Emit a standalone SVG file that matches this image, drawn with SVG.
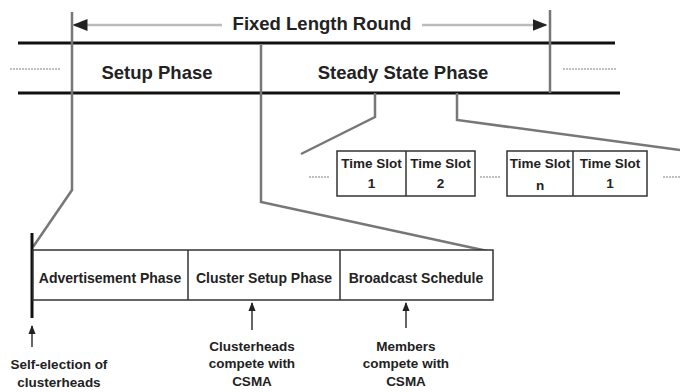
<svg xmlns="http://www.w3.org/2000/svg" width="680" height="392" viewBox="0 0 680 392">
<defs>
<style>
.t{font-family:"Liberation Sans",Arial,sans-serif;font-weight:bold;fill:#222;text-anchor:middle}
.big{font-size:18.5px}
.sm{font-size:13.5px}
.ts{font-size:13.5px}
.md{font-size:14px}
.thick{stroke:#111;stroke-width:3;fill:none}
.gray{stroke:#777;stroke-width:2.5;fill:none}
.dot{stroke:#aaa;stroke-width:1.5;stroke-dasharray:2 1;fill:none}
.box{fill:#fff;stroke:#333;stroke-width:1.5}
</style>
<marker id="ah" viewBox="0 0 10 10" refX="9" refY="5" markerWidth="6" markerHeight="6" orient="auto-start-reverse">
<path d="M0,1 L10,5 L0,9 z" fill="#222"/>
</marker>
</defs>
<rect width="680" height="392" fill="#fff"/>
<g id="connectors">
<line x1="74" y1="25" x2="546" y2="25" stroke="#bbb" stroke-width="2.5" marker-start="url(#ah)" marker-end="url(#ah)"/>
<line class="thick" x1="18" y1="43" x2="615" y2="43"/>
<line class="thick" x1="18" y1="93" x2="620" y2="93"/>
<polyline class="gray" points="72,12 72,190 33,247"/>
<polyline class="gray" points="261,45 261,202 492,252"/>
<line class="gray" x1="550" y1="10" x2="550" y2="93"/>
<polyline class="gray" points="375,93 375,117 301,154"/>
<polyline class="gray" points="457,93 457,120 680,150"/>
<line class="dot" x1="10" y1="69" x2="60" y2="69"/>
<line class="dot" x1="563" y1="69" x2="616" y2="69"/>
<line class="dot" x1="309" y1="177" x2="330" y2="177"/>
<line class="dot" x1="480" y1="177" x2="500" y2="177"/>
<line class="dot" x1="663" y1="177" x2="680" y2="177"/>
<line x1="32" y1="233" x2="32" y2="318" stroke="#111" stroke-width="3"/>
<line x1="32" y1="347" x2="32" y2="326" stroke="#333" stroke-width="1.5" marker-end="url(#ah)"/>
<line x1="252" y1="330" x2="252" y2="303" stroke="#333" stroke-width="1.5" marker-end="url(#ah)"/>
<line x1="406" y1="328" x2="406" y2="303" stroke="#333" stroke-width="1.5" marker-end="url(#ah)"/>
</g>
<g id="title">
<rect x="222" y="13" width="200" height="22" fill="#fff"/>
<text class="t big" x="322" y="30">Fixed Length Round</text>
</g>
<g id="setup"><text class="t big" x="157" y="79">Setup Phase</text></g>
<g id="steady"><text class="t big" x="403" y="79">Steady State Phase</text></g>
<g id="slots1">
<rect class="box" x="337" y="151" width="138" height="45"/>
<line x1="406" y1="151" x2="406" y2="196" stroke="#333" stroke-width="1.5"/>
<text class="t ts" x="371.5" y="168">Time Slot</text>
<text class="t ts" x="371.5" y="188">1</text>
<text class="t ts" x="440.5" y="168">Time Slot</text>
<text class="t ts" x="440.5" y="188">2</text>
</g>
<g id="slots2">
<rect class="box" x="507" y="151" width="140" height="45"/>
<line x1="573" y1="151" x2="573" y2="196" stroke="#333" stroke-width="1.5"/>
<text class="t ts" x="540" y="168">Time Slot</text>
<text class="t ts" x="540" y="190">n</text>
<text class="t ts" x="610" y="168">Time Slot</text>
<text class="t ts" x="610" y="188">1</text>
</g>
<g id="setupbox">
<rect class="box" x="33" y="250" width="460" height="50"/>
<line x1="188" y1="250" x2="188" y2="300" stroke="#333" stroke-width="1.5"/>
<line x1="340" y1="250" x2="340" y2="300" stroke="#333" stroke-width="1.5"/>
<text class="t md" x="110" y="283">Advertisement Phase</text>
<text class="t md" x="264" y="283">Cluster Setup Phase</text>
<text class="t md" x="416" y="283">Broadcast Schedule</text>
</g>
<g id="lbl1">
<text class="t sm" x="59" y="369">Self-election of</text>
<text class="t sm" x="59" y="387">clusterheads</text>
</g>
<g id="lbl2">
<text class="t sm" x="252" y="351">Clusterheads</text>
<text class="t sm" x="252" y="368">compete with</text>
<text class="t sm" x="252" y="386">CSMA</text>
</g>
<g id="lbl3">
<text class="t sm" x="406" y="351">Members</text>
<text class="t sm" x="406" y="368">compete with</text>
<text class="t sm" x="406" y="386">CSMA</text>
</g>
</svg>
